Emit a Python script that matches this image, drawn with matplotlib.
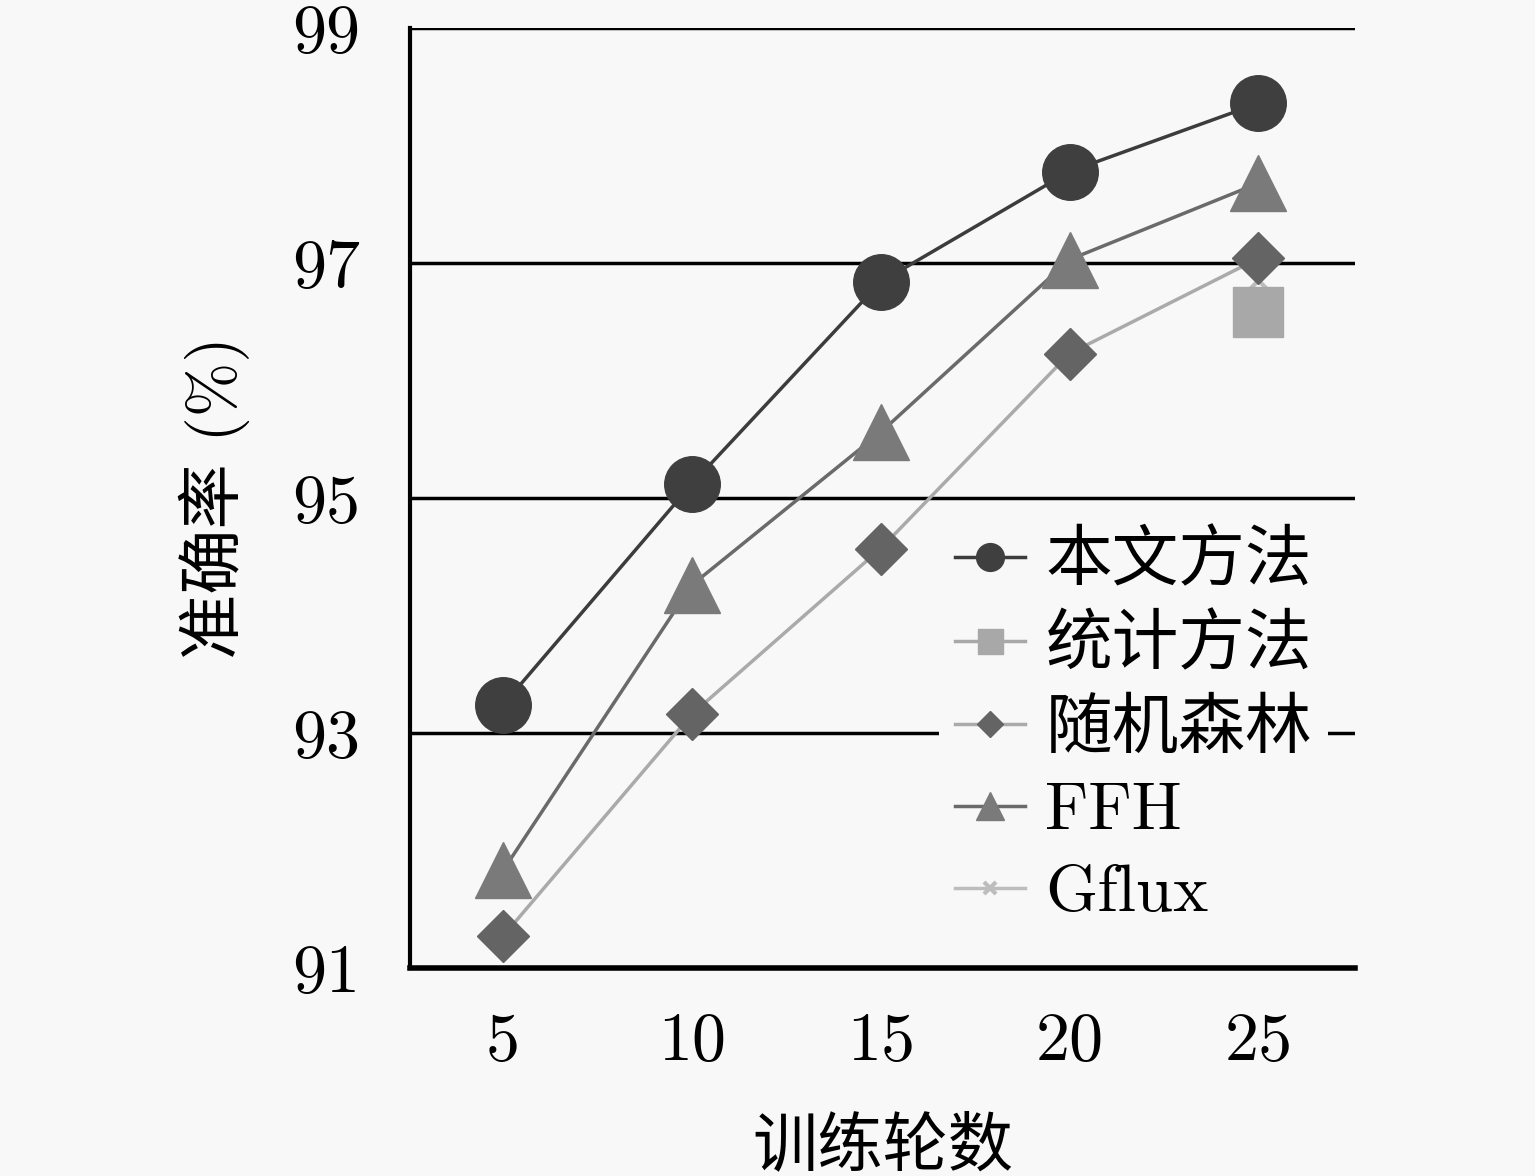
import matplotlib
matplotlib.use("Agg")
import matplotlib.pyplot as plt

plt.rcParams['font.family'] = ['cmr10', 'Noto Sans CJK SC']
plt.rcParams['axes.unicode_minus'] = False

epochs = [5, 10, 15, 20, 25]
ours = [93.24, 95.12, 96.84, 97.78, 98.36]
ffh = [91.83, 94.26, 95.56, 97.03, 97.68]
rf = [91.27, 93.16, 94.57, 96.23, 97.04]
stat_x = [25]
stat = [96.58]
gflux_x = [25]
gflux = [96.86]

bg = '#f8f8f8'
fig = plt.figure(figsize=(15.35, 11.76), dpi=100, facecolor=bg)
ax = fig.add_axes([0.267, 0.177, 0.616, 0.799], facecolor=bg)

for y in [93, 95, 97, 99]:
    ax.axhline(y, color='black', lw=2.5, zorder=1)

ax.plot(gflux_x, gflux, color='#bdbdbd', lw=2.5, marker='x', ms=18, mew=3,
        label='Gflux', zorder=3)
ax.plot(stat_x, stat, color='#a8a8a8', lw=2.5, marker='s', ms=36,
        label='统计方法', zorder=4)
ax.plot(epochs, rf, color='#aaaaaa', lw=2.5, marker='D', ms=26,
        mfc='#646464', mec='#646464', label='随机森林', zorder=5)
ax.plot(epochs, ffh, color='#6a6a6a', lw=2.5, marker='^', ms=40,
        mfc='#7a7a7a', mec='#7a7a7a', label='FFH', zorder=6)
ax.plot(epochs, ours, color='#3c3c3c', lw=2.5, marker='o', ms=40,
        mfc='#3f3f3f', mec='#3f3f3f', label='本文方法', zorder=7)

ax.set_xlim(2.53, 27.57)
ax.set_ylim(91, 99)
ax.set_xticks(epochs)
ax.set_yticks([91, 93, 95, 97, 99])
ax.tick_params(length=0, labelsize=49)
ax.tick_params(axis='y', pad=36)
ax.tick_params(axis='x', pad=32)

for s in ['top', 'right']:
    ax.spines[s].set_visible(False)
ax.spines['left'].set_linewidth(3)
ax.spines['bottom'].set_linewidth(4)

ax.set_xlabel('训练轮数', fontsize=47, labelpad=32)
ax.set_ylabel('准确率 (%)', fontsize=47, labelpad=30)

h, l = ax.get_legend_handles_labels()
order = [4, 1, 2, 3, 0]
leg = ax.legend([h[i] for i in order], [l[i] for i in order],
                loc='center left', bbox_to_anchor=(0.524, 0.256),
                fontsize=48, frameon=True,
                facecolor=bg, edgecolor='none', framealpha=1,
                handlelength=1.05, handletextpad=0.3, labelspacing=0.33,
                markerscale=0.5, borderpad=0.25)
leg.set_zorder(10)

fig.savefig('out.png', dpi=100, facecolor=bg)
